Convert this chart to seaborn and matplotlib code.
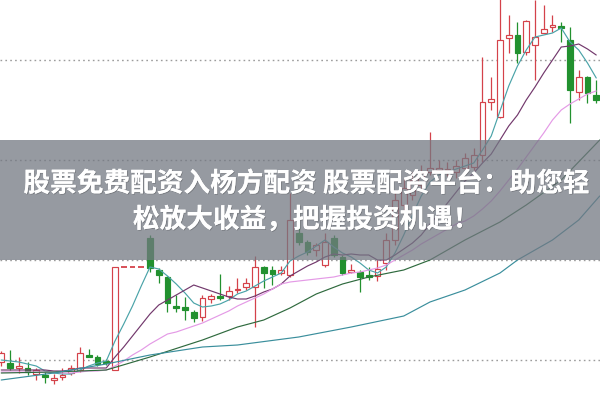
import numpy as np
import pandas as pd
import matplotlib
matplotlib.use("Agg")
import matplotlib.pyplot as plt
import matplotlib.patheffects as pe
import seaborn as sns

# ---- daily candles (price units) ----
open_ = [38,37,32,32,26,25,20,23,27,30,45,43,39,30,133,133,133,162,130,123,
         94,93,88,83,101,104,104,110,113,113,133,130,127,125,167,158,150,135,162,143,
         128,128,125,124,137,160,195,205,215,228,230,230,228,232,233,245,298,283,362,365,
         348,355,367,373,374,360,308,323,305]
high_ = [49,50,43,38,32,28,26,32,35,53,51,45,41,133,133,133,133,165,132,124,
         105,103,90,105,106,126,114,122,122,144,134,134,134,207,173,160,157,167,165,145,
         136,130,133,140,167,208,222,228,235,268,240,238,240,247,252,343,323,402,385,378,
         380,400,395,385,378,373,330,324,320]
low_ = [34,30,27,25,20,17,16,20,25,28,43,34,35,30,133,133,133,128,117,88,
        88,80,78,79,97,100,100,107,110,73,112,115,125,123,155,145,144,133,143,125,
        127,108,120,119,130,155,185,200,210,225,225,224,222,227,230,238,290,282,347,337,
        345,320,367,368,358,277,300,297,297]
close_ = [47,32,34,28,30,23,22,25,32,47,43,36,37,133,133,133,133,132,125,97,
          92,90,82,102,104,102,109,111,117,133,127,126,130,180,158,148,155,158,145,127,
          130,123,123,131,160,200,212,220,227,232,232,231,234,242,245,298,301,360,365,347,
          379,363,371,375,372,310,323,307,300]

# ---- moving averages ----
ma5 = [40,39,38,36,34,29,27,26,26,30,34,37,39,59,76,94,114,133,131,124,
       116,107,97,93,94,96,100,106,109,114,119,123,127,139,144,148,154,160,153,147,
       143,137,130,127,133,147,165,185,204,218,225,228,231,234,237,250,264,289,314,334,
       350,363,365,367,372,358,350,337,322]
ma10 = [30,30,30,30,30,30,29,29,30,32,32,32,32,43,53,64,75,86,95,100,
        105,110,115,112,109,106,103,101,101,104,108,111,116,124,129,134,138,143,146,145,
        146,145,145,140,140,145,151,157,165,176,186,197,208,219,227,237,246,260,274,285,
        300,313,327,340,353,354,356,351,345]
ma20 = [28,28,28,28,28,28,28,27,27,28,29,29,30,34,39,45,50,56,61,66,
        68,71,74,77,81,85,89,94,98,102,106,111,116,118,119,120,121,122,123,125,
        127,128,130,132,135,140,145,150,156,161,166,171,176,179,184,191,199,209,220,231,
        243,255,267,280,290,296,301,306,309]
ma60_idx = [0,6,12,17,23,27,30,33,36,39,42,46,49,53,57,60,64,68.4]
ma60 = [27,28,30,43,60,73,80,92,106,116,123,130,140,160,178,195,220,260]
ma120_idx = [0,6,12,17,23,27,34,40,46,49,53,57,59,63,66,68.4]
ma120 = [20,27,36,45,53,55,63,73,84,98,110,127,140,160,180,204]

grid_levels = [40, 140, 240, 340]

title_lines = ["股票免费配资入杨方配资 股票配资平台：助您轻", "松放大收益，把握投资机遇！"]

RED = "#d4424a"
GREEN = "#22912f"
line_colors = {"MA5": "#4aa3a8", "MA10": "#72386c", "MA20": "#e49ae6",
               "MA60": "#2f6a3e", "MA120": "#3a8e9c"}

sns.set_theme(style="white")
plt.rcParams['font.family'] = ['Noto Sans CJK SC', 'DejaVu Sans']

fig = plt.figure(figsize=(6, 4), dpi=100)
ax = fig.add_axes([0, 0, 1, 1])

for g in grid_levels:
    ax.axhline(g, color='#9c9c9c', lw=1.0, ls=(0, (1.2, 2.3)), zorder=1)

o = np.array(open_, float); h = np.array(high_, float)
l = np.array(low_, float); c = np.array(close_, float)
x = np.arange(len(o))
w = 0.65
up = c >= o
bot = np.minimum(o, c); top = np.maximum(o, c)
cols = [RED if u else GREEN for u in up]

for i in range(len(o)):
    if h[i] > top[i]:
        ax.vlines(x[i], top[i], h[i], color=cols[i], lw=0.9, zorder=2)
    if l[i] < bot[i]:
        ax.vlines(x[i], l[i], bot[i], color=cols[i], lw=0.9, zorder=2)

flat = (top - bot) < 1.0
body = ~flat
ax.bar(x[body], (top - bot)[body], bottom=bot[body], width=w,
       color=['white' if u else GREEN for u in up[body]],
       edgecolor=[cols[i] for i in np.where(body)[0]], linewidth=0.85, zorder=3)
for i in np.where(flat)[0]:
    ax.hlines(o[i], x[i] - w / 2, x[i] + w / 2, color=cols[i], lw=1.3, zorder=3)

frames = [
    pd.DataFrame({"idx": x, "val": ma5, "name": "MA5"}),
    pd.DataFrame({"idx": x, "val": ma10, "name": "MA10"}),
    pd.DataFrame({"idx": x, "val": ma20, "name": "MA20"}),
    pd.DataFrame({"idx": ma60_idx, "val": ma60, "name": "MA60"}),
    pd.DataFrame({"idx": ma120_idx, "val": ma120, "name": "MA120"}),
]
df = pd.concat(frames, ignore_index=True)
sns.lineplot(data=df, x="idx", y="val", hue="name", palette=line_colors,
             estimator=None, legend=False, ax=ax, linewidth=0.85, zorder=4)
ax.set_xlim(-0.143, 68.43)
ax.set_ylim(0, 400)
ax.axis('off')

# grey banner
ax.axhspan(140, 260, facecolor=(0.45, 0.47, 0.51), alpha=0.75, lw=0, zorder=10)

shadow = [pe.withSimplePatchShadow(offset=(0.6, -0.6), shadow_rgbFace='black', alpha=0.2), pe.Normal()]
fig.text(0.51, 1 - 184 / 400, title_lines[0], ha='center', va='center', color='white',
         fontsize=19.2, fontweight='bold', zorder=12, path_effects=shadow)
fig.text(0.51, 1 - 220 / 400, title_lines[1], ha='center', va='center', color='white',
         fontsize=19.2, fontweight='bold', zorder=12, path_effects=shadow)

fig.savefig("out.png", dpi=100)
